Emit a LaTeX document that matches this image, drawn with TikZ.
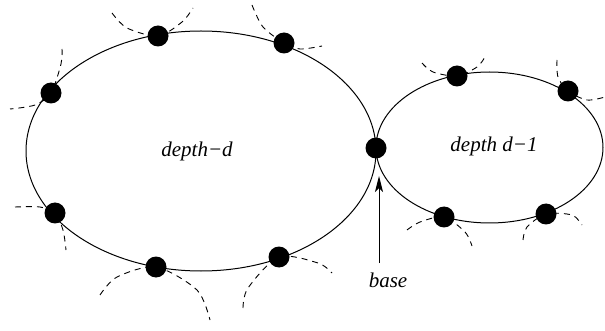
\documentclass[tikz,border=0pt]{standalone}
\usepackage{fontspec}
\setmainfont{Liberation Serif}
\newfontfamily\labfont{Liberation Serif Italic}
\usetikzlibrary{arrows.meta}
\begin{document}
\begin{tikzpicture}[x=1pt,y=-1pt,
  ring/.style={line width=1pt},
  dot/.style={circle,fill=black,inner sep=0pt,minimum size=21pt},
  hang/.style={dash pattern=on 6pt off 5pt,line width=0.9pt},
  lab/.style={font=\labfont\fontsize{21}{25}\selectfont,inner sep=0pt}]
\useasboundingbox (0,0) rectangle (605,331);
% rings
\draw[ring] (201,151) ellipse [x radius=175, y radius=120];
\draw[ring] (489.5,147.5) ellipse [x radius=113.5, y radius=75.5];
% dashed hanging arcs
\draw[hang] plot[smooth] coordinates {(112,13) (127,28) (158,36) (182,22) (193,8)};
\draw[hang] plot[smooth] coordinates {(252,5) (263,27) (284,43) (300,49) (322,46)};
\draw[hang] plot[smooth] coordinates {(62,49) (61,64) (51,93) (35,105) (10,109)};
\draw[hang] plot[smooth] coordinates {(15,207) (40,207) (55,213) (63,230) (66,250)};
\draw[hang] plot[smooth] coordinates {(100,295) (117,277) (156,267) (197,290) (210,320)};
\draw[hang] plot[smooth] coordinates {(243,308) (248,288) (279,257) (318,263) (332,273)};
\draw[hang] plot[smooth] coordinates {(422,63) (433,72) (457,76) (477,67) (485,57)};
\draw[hang] plot[smooth] coordinates {(557,60) (558,77) (568,91) (587,100) (605,97)};
\draw[hang] plot[smooth] coordinates {(407,230) (420,222) (444,217) (465,232) (472,246)};
\draw[hang] plot[smooth] coordinates {(523,240) (527,227) (546,214) (572,215) (582,225)};
% dots
\node[dot] (a1) at (158,36) {};
\node[dot] (a2) at (284,43) {};
\node[dot] (a3) at (51,93) {};
\node[dot] (a4) at (55,213) {};
\node[dot] (a5) at (156,267) {};
\node[dot] (a6) at (279,257) {};
\node[dot] (bd) at (376,148) {};
\node[dot] (b1) at (457,76) {};
\node[dot] (b2) at (568,91) {};
\node[dot] (b3) at (444,217) {};
\node[dot] (b4) at (546,214) {};
% labels
\node[lab] (t1) at (197,151) {depth−d};
\node[lab] (t2) at (494,146) {depth d−1};
\node[lab] (t3) at (388,280) {base};
% arrow
\coordinate (foot) at (379,263);
\coordinate (tip) at (379,176);
\draw[line width=1pt,-{Stealth[length=16pt,width=8pt,inset=4pt]}] (foot) -- (tip);
\end{tikzpicture}
\end{document}
